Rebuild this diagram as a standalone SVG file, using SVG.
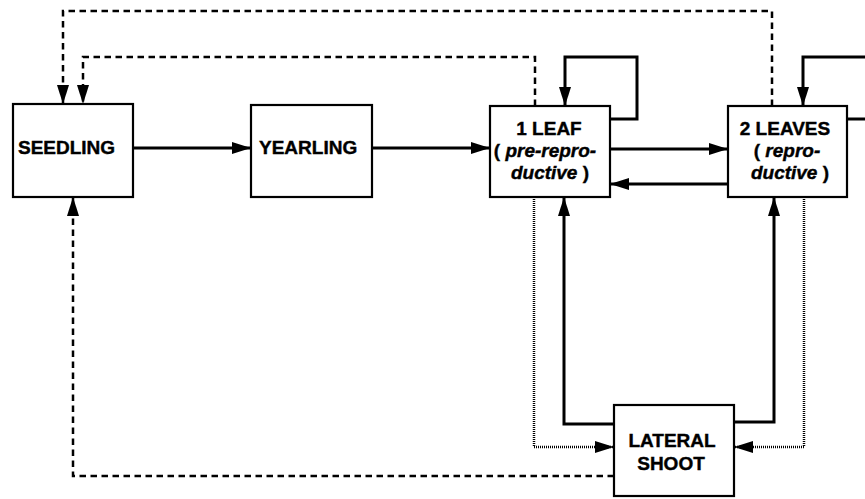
<svg xmlns="http://www.w3.org/2000/svg" width="865" height="499" viewBox="0 0 865 499">
<defs>
<marker id="ah" markerUnits="userSpaceOnUse" markerWidth="22" markerHeight="14" refX="19" refY="6" orient="auto">
<path d="M0,0 L19,6 L0,12 Z" fill="#000"/>
</marker>
<style>
.box{fill:#fff;stroke:#000;stroke-width:2.2}
.t{font-family:"Liberation Sans",Arial,sans-serif;font-weight:bold;font-size:19px;fill:#000;stroke:#000;stroke-width:0.4}
.i{font-style:italic}
.s{fill:none;stroke:#000;stroke-width:3}
.d{fill:none;stroke:#000;stroke-width:2.5;stroke-dasharray:6.5 4.5}
.o{fill:none;stroke:#000;stroke-width:2.5;stroke-dasharray:1 1}
</style>
</defs>
<rect width="865" height="499" fill="#fff"/>
<g id="connectors">
<path class="s" d="M133,148 H251" marker-end="url(#ah)"/>
<path class="s" d="M372,148 H490" marker-end="url(#ah)"/>
<path class="s" d="M610,149 H728" marker-end="url(#ah)"/>
<path class="s" d="M728,184 H610" marker-end="url(#ah)"/>
<path class="s" d="M610,119 H637 V57 H565 V106" marker-end="url(#ah)"/>
<path class="s" d="M847,119 H870"/>
<path class="s" d="M870,57 H803 V106" marker-end="url(#ah)"/>
<path class="d" d="M772,106 V11 H63 V104" marker-end="url(#ah)"/>
<path class="d" d="M535,106 V57 H83 V104" marker-end="url(#ah)"/>
<path class="d" d="M614,476 H73 V197" marker-end="url(#ah)"/>
<path class="s" d="M614,424 H564 V197" marker-end="url(#ah)"/>
<path class="s" d="M734,422 H774 V197" marker-end="url(#ah)"/>
<path class="o" d="M534,197 V447 H614" marker-end="url(#ah)"/>
<path class="o" d="M804,197 V447 H734" marker-end="url(#ah)"/>
</g>
<g id="seedling">
<rect class="box" x="13" y="104" width="120" height="93"/>
<text class="t" x="18" y="154">SEEDLING</text>
</g>
<g id="yearling">
<rect class="box" x="251" y="105" width="121" height="92"/>
<text class="t" x="259" y="154">YEARLING</text>
</g>
<g id="leaf1">
<rect class="box" x="490" y="106" width="120" height="91"/>
<text class="t" x="549" y="135" text-anchor="middle">1 LEAF</text>
<text class="t" x="545" y="157" text-anchor="middle">( <tspan class="i">pre-repro-</tspan></text>
<text class="t" x="550" y="179" text-anchor="middle"><tspan class="i">ductive</tspan> )</text>
</g>
<g id="leaves2">
<rect class="box" x="728" y="106" width="119" height="91"/>
<text class="t" x="785" y="135" text-anchor="middle">2 LEAVES</text>
<text class="t" x="787" y="157" text-anchor="middle">( <tspan class="i">repro-</tspan></text>
<text class="t" x="790" y="179" text-anchor="middle"><tspan class="i">ductive</tspan> )</text>
</g>
<g id="lateral">
<rect class="box" x="614" y="405" width="120" height="91"/>
<text class="t" x="672" y="447" text-anchor="middle">LATERAL</text>
<text class="t" x="671" y="470" text-anchor="middle">SHOOT</text>
</g>
</svg>
